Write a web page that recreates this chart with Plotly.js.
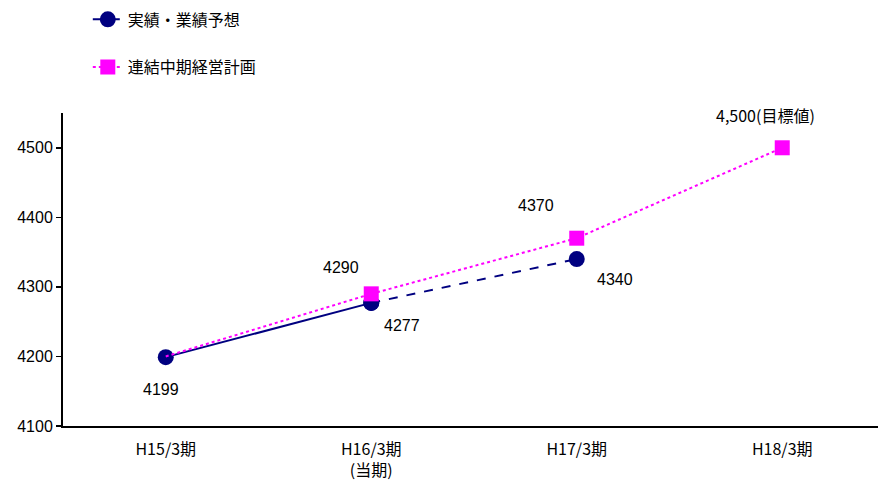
<!DOCTYPE html>
<html><head><meta charset="utf-8">
<script src="https://cdn.plot.ly/plotly-3.0.1.min.js"></script>
<style>html,body{margin:0;padding:0;background:#fff}</style>
</head><body>
<div id="chart" style="width:878px;height:480px"></div>
<script>
var categories = ["H15/3期", "H16/3期<br>(当期)", "H17/3期", "H18/3期"];
var actualValues = [4199, 4277];          // H15, H16 実績
var forecastValues = [4277, 4340];        // H16, H17 業績予想
var planValues = [4200, 4290, 4370, 4500]; // 連結中期経営計画
var labelTexts = ["4199", "4277", "4290", "4370", "4340", "4,500(目標値)"];
var seriesNames = ["実績・業績予想", "連結中期経営計画"];

var navy = "#000080", pink = "#FF00FF";
var cjk = "'Noto Sans CJK JP', 'Liberation Sans', sans-serif";
var arial = "'Liberation Sans', Arial, sans-serif";

var traces = [
  {x: categories.slice(0,2), y: actualValues, mode: "lines+markers", showlegend: false,
   legendgroup: "a", line: {color: navy, width: 2, dash: "solid"},
   marker: {color: navy, size: 16, symbol: "circle"}, hoverinfo: "skip"},
  {x: categories.slice(1,3), y: forecastValues, mode: "lines+markers", name: seriesNames[0],
   legendgroup: "a", line: {color: navy, width: 2, dash: "dash"},
   marker: {color: navy, size: 16, symbol: "circle"}},
  {x: categories.slice(0,2), y: planValues.slice(0,2), mode: "lines", showlegend: false,
   legendgroup: "b", line: {color: pink, width: 2, dash: "dot"}, hoverinfo: "skip"},
  {x: categories.slice(1), y: planValues.slice(1), mode: "lines+markers", name: seriesNames[1],
   legendgroup: "b", line: {color: pink, width: 2, dash: "dot"},
   marker: {color: pink, size: 15, symbol: "square"}}
];

var ann = [
  {x: categories[0], y: actualValues[0], text: labelTexts[0], xshift: -5, yshift: -32},
  {x: categories[1], y: actualValues[1], text: labelTexts[1], xshift: 31, yshift: -23},
  {x: categories[1], y: planValues[1], text: labelTexts[2], xshift: -30, yshift: 26},
  {x: categories[2], y: planValues[2], text: labelTexts[3], xshift: -41, yshift: 33},
  {x: categories[2], y: forecastValues[1], text: labelTexts[4], xshift: 38, yshift: -20},
  {x: categories[3], y: planValues[3], text: labelTexts[5], xshift: -17, yshift: 33, cjk: true}
].map(function(a){
  return {x: a.x, y: a.y, xref: "x", yref: "y", text: a.text, showarrow: false,
    xshift: a.xshift, yshift: a.yshift,
    font: {family: a.cjk ? cjk : arial, size: 16, color: "#000"}};
});

var layout = {
  width: 878, height: 480,
  margin: {l: 63, r: 0, t: 113, b: 54, autoexpand: false},
  paper_bgcolor: "#fff", plot_bgcolor: "#fff",
  showlegend: true,
  legend: {x: 0.1, y: 0.995, xref: "container", yref: "container", xanchor: "left", yanchor: "top",
    traceorder: "grouped", tracegroupgap: 24,
    font: {family: cjk, size: 16, color: "#000"}, bgcolor: "rgba(0,0,0,0)"},
  xaxis: {type: "category", range: [-0.5, 3.466], showgrid: false, zeroline: false,
    showline: true, linecolor: "#000", linewidth: 2, ticks: "", ticklabelstandoff: 8,
    tickfont: {family: cjk, size: 16, color: "#000"}, fixedrange: true},
  yaxis: {range: [4100, 4550], dtick: 100, tick0: 4100, showgrid: false, zeroline: false,
    showline: true, linecolor: "#000", linewidth: 2, ticks: "outside", ticklen: 5,
    tickcolor: "#000", tickwidth: 1.5,
    tickfont: {family: arial, size: 16, color: "#000"}, fixedrange: true},
  annotations: ann
};

Plotly.newPlot("chart", traces, layout, {displayModeBar: false, staticPlot: true});
</script>
</body></html>
